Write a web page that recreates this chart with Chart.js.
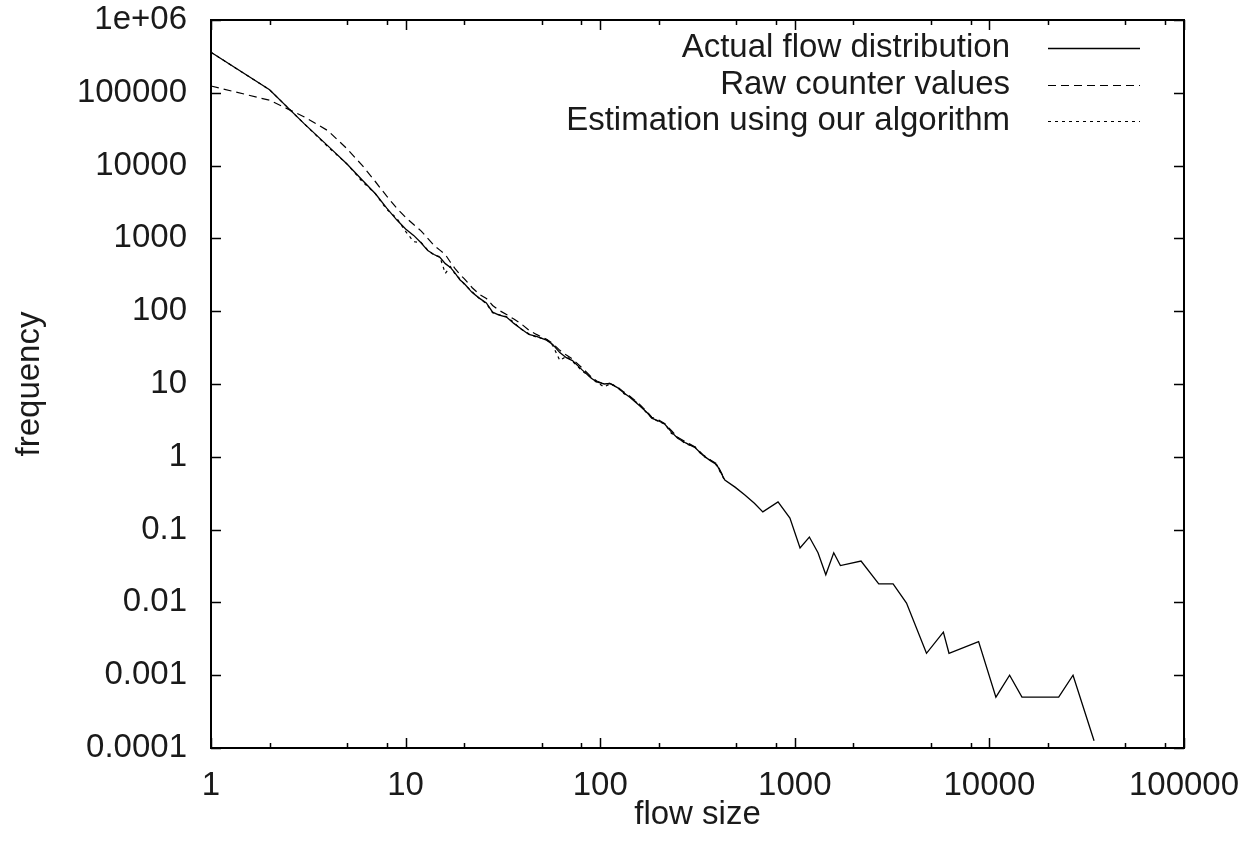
<!DOCTYPE html>
<html>
<head>
<meta charset="utf-8">
<script src="https://cdn.jsdelivr.net/npm/chart.js@4.4.1/dist/chart.umd.min.js"></script>
<style>
  body { margin: 0; background: #fff; }
  #wrap { width: 1245px; height: 851px; }
</style>
</head>
<body>
<div id="wrap"><canvas id="flowChart" width="1245" height="851"></canvas></div>
<script>
// flow sizes (x) shared by all three series; raw/estimate stop where they merge with the actual curve
const flowSizes = [1, 2, 3, 4, 5, 6, 7, 8, 9, 10, 11, 12, 13, 14, 15, 16, 17, 18, 19, 20,
    22, 24, 26, 28, 30, 33, 36, 39, 43, 47, 53, 57, 62, 67, 72, 81, 90, 96, 105, 112,
    122, 132, 142, 160, 175, 184, 200, 215, 232, 250, 275, 306, 336, 365, 397, 437,
    495, 552, 620, 685, 820, 944, 1064, 1188, 1316, 1443, 1585, 1715, 2190, 2700, 3200, 3750,
    4750, 5800, 6200, 8800, 10800, 12700, 14700, 22700, 26900, 34500];

const actualFreq = [360000, 110000, 38000, 18500, 10500, 6300, 4100, 2600, 1800, 1350, 1100, 870, 680, 600, 550, 450, 400, 330, 270, 240,
    180, 150, 130, 97, 89, 83, 68, 58, 48, 45, 40, 35, 27, 23, 21, 15.5, 12, 10.7, 10, 10.2,
    9, 7.6, 6.6, 5, 4.0, 3.4, 3.1, 2.8, 2.2, 1.8, 1.55, 1.35, 1.06, 0.9, 0.78, 0.48,
    0.38, 0.30, 0.23, 0.175, 0.24, 0.144, 0.056, 0.079, 0.048, 0.024, 0.048, 0.032, 0.037, 0.018, 0.018, 0.0098,
    0.002, 0.0039, 0.002, 0.0029, 0.0005, 0.001, 0.0005, 0.0005, 0.001, 0.000126];

const rawFreq = [124000, 79000, 47000, 30000, 17000, 10000, 6000, 3800, 2600, 1950, 1550, 1270, 1000, 800, 690, 600, 470, 380, 320, 280,
    210, 170, 150, 120, 104, 90, 78, 68, 55, 48, 41, 36, 29, 25, 22, 16.5, 12.5, 11, 10, 10.2,
    9.2, 7.8, 6.8, 5.2, 4.1, 3.5, 3.2, 2.85, 2.3, 1.85, 1.6, 1.38, 1.08, 0.92, 0.8, 0.49];

const estimateFreq = [360000, 110000, 38000, 18000, 10500, 6000, 4100, 2500, 1900, 1250, 900, 880, 690, 590, 560, 330, 410, 320, 280, 235,
    185, 148, 128, 95, 90, 84, 70, 57, 49, 44, 41, 34, 21, 24, 20.5, 15, 12.3, 10.5, 9.1, 10,
    9.2, 7.4, 6.7, 5.1, 3.9, 3.5, 3.0, 2.85, 2.1, 1.85, 1.5, 1.38, 1.03, 0.92, 0.76, 0.47];

const seriesNames = ["Actual flow distribution", "Raw counter values", "Estimation using our algorithm"];

const xTickValues = [1, 10, 100, 1000, 10000, 100000];
const xTickLabels = ["1", "10", "100", "1000", "10000", "100000"];
const xMinorTicks = [2, 5, 8, 20, 50, 80, 200, 500, 800, 2000, 5000, 8000, 20000, 50000, 80000];
const yTickValues = [0.0001, 0.001, 0.01, 0.1, 1, 10, 100, 1000, 10000, 100000, 1000000];
const yTickLabels = ["0.0001", "0.001", "0.01", "0.1", "1", "10", "100", "1000", "10000", "100000", "1e+06"];

function toPoints(values) {
    return values.map((v, i) => ({ x: flowSizes[i], y: v }));
}

const FONT = "'Liberation Sans', Arial, Helvetica, sans-serif";
Chart.defaults.font.family = FONT;
Chart.defaults.font.size = 33;
Chart.defaults.color = "#1a1a1a";

// gnuplot style frame with inward ticks on all four sides
const framePlugin = {
    id: "frame",
    afterDraw(chart) {
        const ctx = chart.ctx;
        const area = chart.chartArea;
        const xs = chart.scales.x, ys = chart.scales.y;
        ctx.save();
        ctx.strokeStyle = "#000";
        ctx.lineWidth = 1.5;
        ctx.beginPath();
        xTickValues.forEach(v => {
            const px = Math.round(xs.getPixelForValue(v)) + 0.5;
            ctx.moveTo(px, area.bottom); ctx.lineTo(px, area.bottom - 10);
            ctx.moveTo(px, area.top); ctx.lineTo(px, area.top + 10);
        });
        xMinorTicks.forEach(v => {
            const px = Math.round(xs.getPixelForValue(v)) + 0.5;
            ctx.moveTo(px, area.bottom); ctx.lineTo(px, area.bottom - 5);
            ctx.moveTo(px, area.top); ctx.lineTo(px, area.top + 5);
        });
        yTickValues.forEach(v => {
            const py = Math.round(ys.getPixelForValue(v)) + 0.5;
            ctx.moveTo(area.left, py); ctx.lineTo(area.left + 10, py);
            ctx.moveTo(area.right, py); ctx.lineTo(area.right - 10, py);
        });
        ctx.stroke();
        ctx.lineWidth = 2;
        ctx.strokeRect(area.left, area.top, area.right - area.left, area.bottom - area.top);
        ctx.restore();
    }
};

// legend: right aligned text followed by the line sample, like gnuplot's key
const keyPlugin = {
    id: "gnuKey",
    afterDraw(chart) {
        const ctx = chart.ctx;
        const area = chart.chartArea;
        const textRight = area.right - 174;
        const lineStart = area.right - 136, lineEnd = area.right - 44;
        ctx.save();
        ctx.font = "33px " + FONT;
        ctx.textAlign = "right";
        ctx.textBaseline = "middle";
        chart.data.datasets.forEach((ds, i) => {
            const y = area.top + 28 + i * 36.5;
            ctx.fillStyle = "#1a1a1a";
            ctx.fillText(ds.label, textRight, y);
            ctx.strokeStyle = ds.borderColor;
            ctx.lineWidth = ds.borderWidth;
            ctx.setLineDash(ds.borderDash || []);
            ctx.beginPath();
            ctx.moveTo(lineStart, Math.round(y) + 0.5);
            ctx.lineTo(lineEnd, Math.round(y) + 0.5);
            ctx.stroke();
        });
        ctx.restore();
    }
};

new Chart(document.getElementById("flowChart"), {
    type: "line",
    data: {
        datasets: [
            { label: seriesNames[0], data: toPoints(actualFreq), borderColor: "#000", borderWidth: 1.3, borderDash: [] },
            { label: seriesNames[1], data: toPoints(rawFreq), borderColor: "#000", borderWidth: 1.2, borderDash: [8, 5] },
            { label: seriesNames[2], data: toPoints(estimateFreq), borderColor: "#000", borderWidth: 1.2, borderDash: [3, 4] }
        ]
    },
    options: {
        responsive: false,
        animation: false,
        devicePixelRatio: 1,
        layout: { padding: { top: 20, right: 61, left: 0, bottom: 0 } },
        elements: {
            point: { radius: 0 },
            line: { tension: 0, fill: false }
        },
        plugins: {
            legend: { display: false },
            tooltip: { enabled: false }
        },
        scales: {
            x: {
                type: "logarithmic",
                min: 1,
                max: 100000,
                grid: { display: false, drawTicks: false, tickLength: 0 },
                border: { display: false },
                afterBuildTicks: scale => { scale.ticks = xTickValues.map(v => ({ value: v })); },
                afterFit: scale => {
                    scale.height = 103;
                    scale.paddingLeft = 0;
                    scale.paddingRight = 0;
                },
                ticks: {
                    autoSkip: false,
                    maxRotation: 0,
                    padding: 18,
                    callback: (v, i) => xTickLabels[i]
                },
                title: { display: true, text: "flow size", padding: { top: 0, bottom: 16 } }
            },
            y: {
                type: "logarithmic",
                min: 0.0001,
                max: 1000000,
                grid: { display: false, drawTicks: false, tickLength: 0 },
                border: { display: false },
                afterBuildTicks: scale => { scale.ticks = yTickValues.map(v => ({ value: v })); },
                afterFit: scale => {
                    scale.width = 211;
                    scale.paddingTop = 0;
                    scale.paddingBottom = 0;
                },
                ticks: {
                    autoSkip: false,
                    padding: 24,
                    callback: (v, i) => yTickLabels[i]
                },
                title: { display: true, text: "frequency", padding: { top: 10, bottom: 0 } }
            }
        }
    },
    plugins: [framePlugin, keyPlugin]
});
</script>
</body>
</html>
